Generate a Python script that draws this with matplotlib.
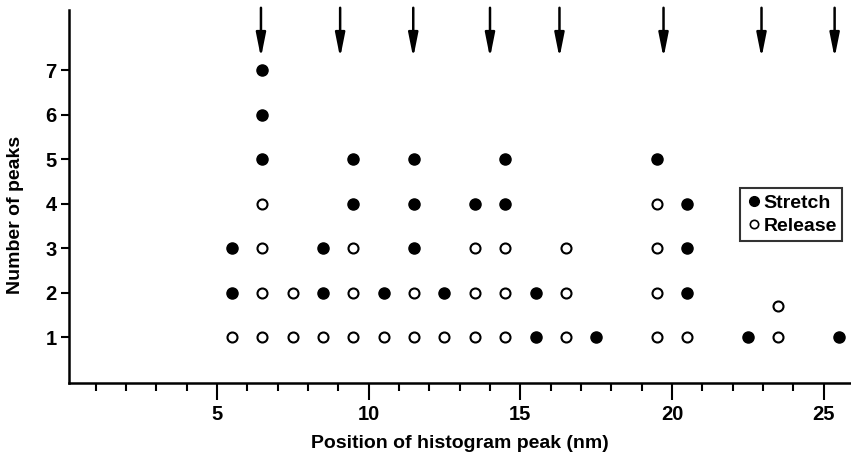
import matplotlib.pyplot as plt
from matplotlib.lines import Line2D

plt.rcParams.update({
    'font.family': ['Liberation Sans', 'DejaVu Sans'],
    'font.size': 14.5,
    'font.weight': 'bold',
    'axes.labelweight': 'bold',
})

# Stretch (filled) points
stretch_x = [5.5, 5.5, 6.5, 6.5, 6.5, 8.5, 8.5, 9.5, 9.5, 10.5, 11.5, 11.5, 11.5,
             12.5, 13.5, 14.5, 14.5, 15.5, 15.5, 17.5, 19.5, 20.5, 20.5, 20.5, 22.5, 25.5]
stretch_y = [2, 3, 5, 6, 7, 2, 3, 4, 5, 2, 3, 4, 5,
             2, 4, 4, 5, 1, 2, 1, 5, 2, 3, 4, 1, 1]

# Release (open) points
release_x = [5.5, 6.5, 6.5, 6.5, 6.5, 7.5, 7.5, 8.5, 9.5, 9.5, 9.5, 10.5, 11.5, 11.5,
             12.5, 13.5, 13.5, 13.5, 14.5, 14.5, 14.5, 16.5, 16.5, 16.5,
             19.5, 19.5, 19.5, 19.5, 20.5, 23.5, 23.5]
release_y = [1, 1, 2, 3, 4, 1, 2, 1, 1, 2, 3, 1, 1, 2,
             1, 1, 2, 3, 1, 2, 3, 1, 2, 3,
             1, 2, 3, 4, 1, 1, 1.7]

# arrow positions along x
arrow_x = [6.45, 9.06, 11.47, 14.0, 16.29, 19.72, 22.95, 25.36]

fig = plt.figure(figsize=(8.51, 4.55), dpi=100)
ax = fig.add_axes([0.081, 0.158, 0.919, 0.82])

ax.plot(stretch_x, stretch_y, 'o', color='black', markersize=8, linestyle='none')
ax.plot(release_x, release_y, 'o', markerfacecolor='white', markeredgecolor='black',
        markeredgewidth=1.5, markersize=7.2, linestyle='none')

for x in arrow_x:
    ax.annotate('', xy=(x, 7.28), xytext=(x, 8.4), annotation_clip=False,
                arrowprops=dict(arrowstyle='-|>,head_length=1.0,head_width=0.2',
                                color='black', lw=1.8, shrinkA=0, shrinkB=0))

ax.set_xlim(0.12, 25.9)
ax.set_ylim(-0.03, 8.35)

for s in ['top', 'right']:
    ax.spines[s].set_visible(False)
for s in ['left', 'bottom']:
    ax.spines[s].set_linewidth(1.8)

ax.set_xticks([5, 10, 15, 20, 25])
ax.set_xticks(range(1, 26), minor=True)
ax.set_yticks(range(1, 8))
ax.tick_params(axis='x', which='major', length=12, width=1.5, pad=4)
ax.tick_params(axis='x', which='minor', length=6, width=1.5)
ax.tick_params(axis='y', length=6, width=1.5, pad=3)

ax.set_xlabel('Position of histogram peak (nm)', labelpad=8, fontsize=14)
ax.set_ylabel('Number of peaks', fontsize=14)
ax.yaxis.set_label_coords(-0.057, 0.45)

handles = [
    Line2D([], [], marker='o', color='black', linestyle='none', markersize=7),
    Line2D([], [], marker='o', markerfacecolor='white', markeredgecolor='black',
           markeredgewidth=1.2, linestyle='none', markersize=6),
]
leg = ax.legend(handles, ['Stretch', 'Release'], loc='upper left',
                bbox_to_anchor=(0.858, 0.522), frameon=True, fancybox=False,
                handletextpad=0.1, handlelength=0.8, borderpad=0.3,
                labelspacing=0.3, borderaxespad=0, fontsize=14)
leg.get_frame().set_edgecolor('black')
leg.get_frame().set_linewidth(1.5)

fig.savefig('out.png', dpi=100)
